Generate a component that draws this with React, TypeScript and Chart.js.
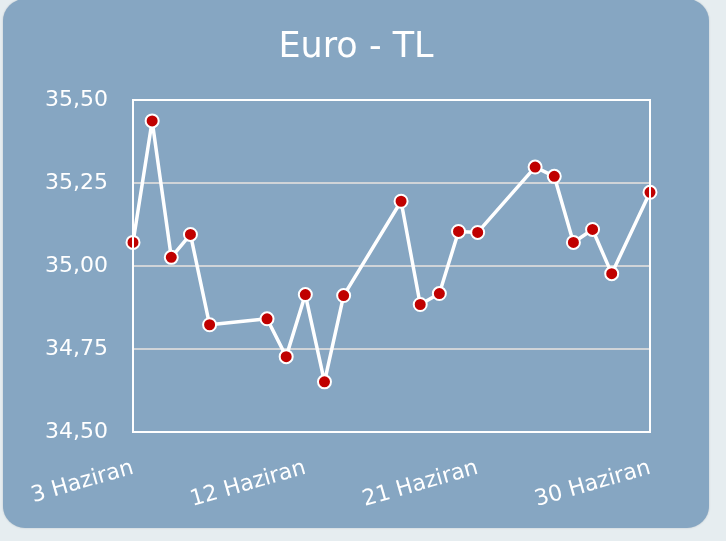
import React, { useEffect, useRef } from "react";
import { Chart, registerables } from "chart.js";

Chart.register(...registerables);

const TITLE = "Euro - TL";
const MONTH = "Haziran";
const days = [3, 4, 5, 6, 7, 10, 11, 12, 13, 14, 17, 18, 19, 20, 21, 24, 25, 26, 27, 28, 30];
const rates = [35.071, 35.437, 35.026, 35.095, 34.823, 34.841, 34.727, 34.914, 34.651, 34.911, 35.195, 34.884, 34.917, 35.104, 35.101, 35.298, 35.27, 35.071, 35.11, 34.977, 35.222];
const xTicks = [3, 12, 21, 30];
const yMin = 34.5;
const yMax = 35.5;
const yStep = 0.25;

const FONT = "'DejaVu Sans', sans-serif";

const frame = {
  id: "frame",
  afterDatasetsDraw(chart: any) {
    const { ctx, chartArea } = chart;
    ctx.save();
    ctx.strokeStyle = "#ffffff";
    ctx.lineWidth = 2;
    ctx.strokeRect(chartArea.left, chartArea.top, chartArea.right - chartArea.left, chartArea.bottom - chartArea.top);
    ctx.restore();
  },
};

export default function App() {
  const ref = useRef<HTMLCanvasElement>(null);
  useEffect(() => {
    document.body.style.margin = "0";
    document.body.style.background = "#e6edf0";
    const chart = new Chart(ref.current!, {
      type: "line",
      data: {
        datasets: [
          {
            data: days.map((d, i) => ({ x: d, y: rates[i] })),
            borderColor: "#ffffff",
            borderWidth: 3.5,
            borderJoinStyle: "round",
            borderCapStyle: "round",
            pointRadius: 6.5,
            pointBackgroundColor: "#c00000",
            pointBorderColor: "#ffffff",
            pointBorderWidth: 2,
            tension: 0,
            clip: false as any,
          },
        ],
      },
      options: {
        animation: false,
        responsive: false,
        layout: { padding: 0 },
        plugins: {
          legend: { display: false },
          tooltip: { enabled: false },
          title: {
            display: true,
            text: TITLE,
            color: "#ffffff",
            font: { family: FONT, size: 35, weight: "normal" as any, lineHeight: 1.2 },
            padding: { top: 28, bottom: 31 },
          },
        },
        scales: {
          x: {
            type: "linear",
            min: 3,
            max: 30,
            afterBuildTicks: (s: any) => {
              s.ticks = xTicks.map((v) => ({ value: v }));
            },
            afterFit: (s: any) => {
              s.height = 96;
            },
            grid: { display: false, drawTicks: false },
            border: { color: "#ffffff", width: 2 },
            ticks: {
              color: "#ffffff",
              font: { family: FONT, size: 22 },
              minRotation: 16,
              maxRotation: 16,
              padding: 23,
              callback: (v: any) => `${v} ${MONTH}`,
            },
          },
          y: {
            min: yMin,
            max: yMax,
            afterFit: (s: any) => {
              s.width = 130;
            },
            grid: { color: "#d0d4d8", lineWidth: 2, drawTicks: false },
            border: { color: "#ffffff", width: 2 },
            ticks: {
              stepSize: yStep,
              color: "#ffffff",
              font: { family: FONT, size: 22 },
              padding: 25,
              callback: (v: any) => Number(v).toFixed(2).replace(".", ","),
            },
          },
          yRight: {
            position: "right",
            min: yMin,
            max: yMax,
            afterFit: (s: any) => {
              s.width = 59;
            },
            grid: { display: false, drawTicks: false },
            border: { display: false },
            ticks: { display: false },
          },
        },
      },
      plugins: [frame],
    });
    return () => chart.destroy();
  }, []);
  return (
    <div
      style={{
        position: "absolute",
        left: 3,
        top: -1,
        width: 706,
        height: 529,
        background: "#86a6c2",
        borderRadius: 22,
        boxShadow: "0 0 2px #b8c2c8",
        overflow: "hidden",
      }}
    >
      <canvas ref={ref} width={706} height={529} style={{ display: "block" }} />
    </div>
  );
}
